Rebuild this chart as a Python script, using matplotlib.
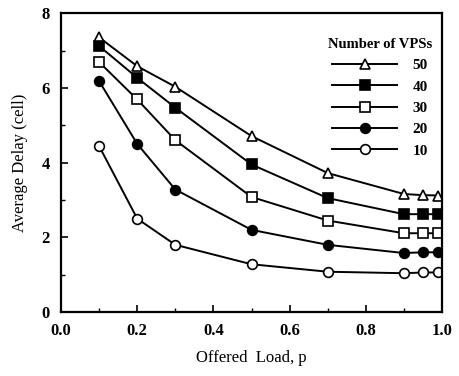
import matplotlib
matplotlib.use("Agg")
import matplotlib.pyplot as plt
from matplotlib.ticker import MultipleLocator

# offered load values
load = [0.1, 0.2, 0.3, 0.5, 0.7, 0.9, 0.95, 0.99]

# average delay per number of VPSs
delay_50 = [7.35, 6.58, 6.03, 4.71, 3.72, 3.16, 3.13, 3.12]
delay_40 = [7.12, 6.27, 5.47, 3.95, 3.05, 2.62, 2.62, 2.62]
delay_30 = [6.69, 5.69, 4.60, 3.08, 2.45, 2.11, 2.11, 2.11]
delay_20 = [6.18, 4.50, 3.28, 2.20, 1.80, 1.58, 1.60, 1.60]
delay_10 = [4.44, 2.50, 1.80, 1.28, 1.08, 1.04, 1.06, 1.06]

labels = ["50", "40", "30", "20", "10"]

plt.rcParams["font.family"] = "Liberation Serif"
plt.rcParams["font.weight"] = "bold"

fig = plt.figure(figsize=(4.59, 3.76), dpi=100)
ax = fig.add_axes([0.133, 0.170, 0.830, 0.795])

styles = [
    (delay_50, "^", "white"),
    (delay_40, "s", "black"),
    (delay_30, "s", "white"),
    (delay_20, "o", "black"),
    (delay_10, "o", "white"),
]
for (ys, m, fc), lab in zip(styles, labels):
    ax.plot(load, ys, color="black", lw=1.4, marker=m, markersize=7,
            markerfacecolor=fc, markeredgecolor="black", markeredgewidth=1.2,
            label=lab)

ax.set_xlim(0, 1.0)
ax.set_ylim(0, 8)
ax.xaxis.set_major_locator(MultipleLocator(0.2))
ax.xaxis.set_minor_locator(MultipleLocator(0.1))
ax.yaxis.set_major_locator(MultipleLocator(2))
ax.yaxis.set_minor_locator(MultipleLocator(1))
ax.xaxis.set_major_formatter(plt.FuncFormatter(lambda v, p: f"{v:.1f}"))
ax.tick_params(which="both", direction="in", labelsize=12)
ax.tick_params(axis="x", pad=8)
ax.tick_params(axis="y", pad=8)
ax.tick_params(which="major", length=5, width=1.2)
ax.tick_params(which="minor", length=3, width=1)
for s in ax.spines.values():
    s.set_linewidth(1.6)

ax.set_xlabel("Offered  Load, p", fontsize=12, fontweight="normal", labelpad=8)
ax.set_ylabel("Average Delay (cell)", fontsize=12, fontweight="normal", labelpad=10)

leg = ax.legend(title="Number of VPSs", loc="upper right", frameon=False,
                fontsize=11, title_fontsize=10.5, handlelength=4.3,
                labelspacing=0.5, handletextpad=1.0,
                bbox_to_anchor=(1.01, 0.963))

fig.savefig("out.png", dpi=100)
